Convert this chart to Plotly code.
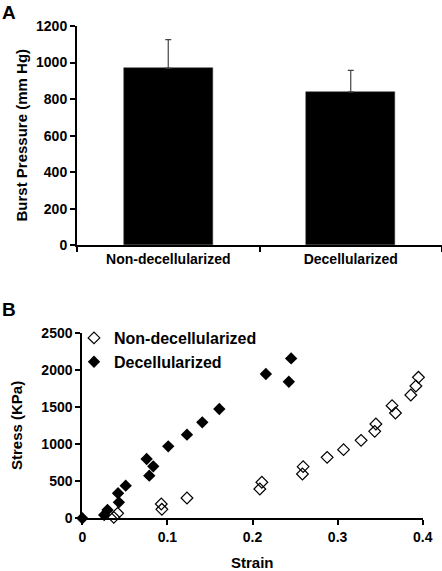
import plotly.graph_objects as go

# Panel A data
categories = ["Non-decellularized", "Decellularized"]
burst_pressure = [970, 840]
burst_err = [155, 117]

# Panel B data
non_strain = [0.037, 0.0415, 0.0928, 0.0935, 0.123, 0.2086, 0.211, 0.2587, 0.2595,
              0.2877, 0.307, 0.3276, 0.3436, 0.345, 0.364, 0.368, 0.386, 0.392, 0.395]
non_stress = [13, 67, 193, 121, 274, 395, 485, 597, 696,
              821, 925, 1050, 1171, 1270, 1517, 1418, 1661, 1782, 1899]
dec_strain = [0.0, 0.0257, 0.0296, 0.042, 0.043, 0.051, 0.0756, 0.0787, 0.0834,
              0.101, 0.123, 0.141, 0.161, 0.2157, 0.2427, 0.2454]
dec_stress = [0, 45, 112, 337, 215, 440, 799, 574, 700,
              969, 1127, 1293, 1472, 1943, 1840, 2154]

W, H = 442, 571
FONT = "Arial, Liberation Sans, sans-serif"

def px(x):
    return x / W

def py(y):
    return 1 - y / H

fig = go.Figure()

fig.add_trace(go.Bar(
    x=categories, y=burst_pressure, width=0.49,
    marker=dict(color="black", line=dict(color="#333", width=0.5)),
    error_y=dict(type="data", symmetric=False, array=burst_err, arrayminus=[0, 0],
                 color="#444", thickness=1.2, width=3),
    xaxis="x", yaxis="y", showlegend=False,
))

fig.add_trace(go.Scatter(
    x=non_strain, y=non_stress, mode="markers", name="Non-decellularized",
    marker=dict(symbol="diamond-open", size=9, color="black", line=dict(width=1.2)),
    xaxis="x2", yaxis="y2", cliponaxis=False,
))
fig.add_trace(go.Scatter(
    x=dec_strain, y=dec_stress, mode="markers", name="Decellularized",
    marker=dict(symbol="diamond", size=9.5, color="black"),
    xaxis="x2", yaxis="y2", cliponaxis=False,
))

tickfont = dict(family=FONT, size=14, color="black", weight="bold")
axcommon = dict(showline=True, linecolor="black", linewidth=2, showgrid=False,
                zeroline=False, ticks="outside", tickcolor="black", tickwidth=2,
                ticklen=5, tickfont=tickfont, automargin=False)

fig.update_layout(
    width=W, height=H,
    margin=dict(l=0, r=0, t=0, b=0, autoexpand=False),
    paper_bgcolor="white", plot_bgcolor="white",
    font=dict(family=FONT, color="black"),
    xaxis=dict(domain=[px(77), 1.0], anchor="y", type="category", range=[-0.5, 1.5],
               tickson="boundaries", **axcommon),
    yaxis=dict(domain=[py(245.3), py(26)], anchor="x", range=[0, 1200],
               tickvals=[0, 200, 400, 600, 800, 1000, 1200], **axcommon),
    xaxis2=dict(domain=[px(82.3), px(422.7)], anchor="y2", range=[0, 0.4],
                tickvals=[0, 0.1, 0.2, 0.3, 0.4], ticktext=["0", "0.1", "0.2", "0.3", "0.4"],
                **axcommon),
    yaxis2=dict(domain=[py(518.3), py(332.7)], anchor="x2", range=[0, 2500],
                tickvals=[0, 500, 1000, 1500, 2000, 2500], **axcommon),
    legend=dict(x=px(74), y=py(321), xanchor="left", yanchor="top",
                bgcolor="rgba(0,0,0,0)", tracegroupgap=0, itemwidth=30,
                font=dict(family=FONT, size=16, color="black", weight="bold")),
    bargap=0,
)

ann_font = dict(family=FONT, size=15, color="black", weight="bold")
fig.add_annotation(text="Burst Pressure (mm Hg)", x=px(21), y=py(135.5), xref="paper", yref="paper",
                   textangle=-90, showarrow=False, font=ann_font, xanchor="center", yanchor="middle")
fig.add_annotation(text="Stress (KPa)", x=px(16), y=py(426), xref="paper", yref="paper",
                   textangle=-90, showarrow=False, font=ann_font, xanchor="center", yanchor="middle")
fig.add_annotation(text="Strain", x=px(252), y=py(562), xref="paper", yref="paper",
                   showarrow=False, font=ann_font, xanchor="center", yanchor="middle")
fig.add_annotation(text="A", x=px(0), y=py(0), xref="paper", yref="paper", showarrow=False,
                   font=dict(family=FONT, size=19, color="black", weight="bold"),
                   xanchor="left", yanchor="top")
fig.add_annotation(text="B", x=px(0), y=py(297), xref="paper", yref="paper", showarrow=False,
                   font=dict(family=FONT, size=19, color="black", weight="bold"),
                   xanchor="left", yanchor="top")

fig.write_html("out.html", config={"displayModeBar": False},
               post_script="document.body.style.margin='0px';")
